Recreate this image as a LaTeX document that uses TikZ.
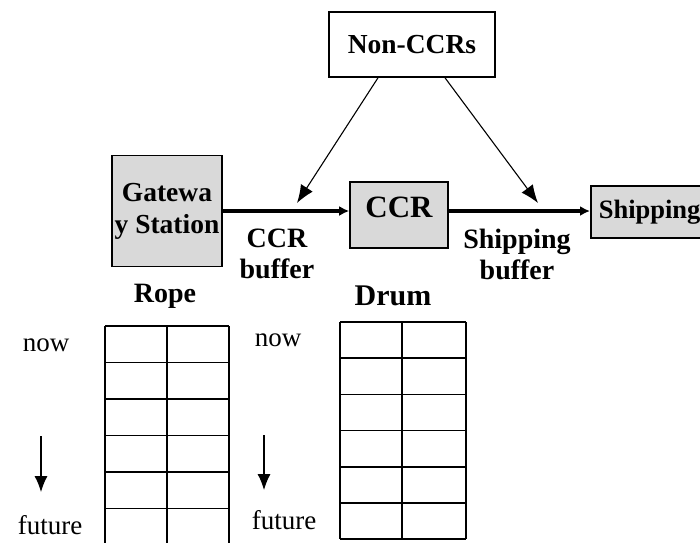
\documentclass[tikz,border=0pt]{standalone}
\usepackage{fontspec}
\setmainfont{Liberation Serif}
\usetikzlibrary{positioning,arrows.meta}
\tikzset{
  stage/.style = {draw, line width=1.6pt, fill=gray!30, inner sep=0pt,
                  font=\bfseries\fontsize{27.5}{31}\selectfont, align=center},
  flow/.style  = {line width=3.8pt, -{Latex[length=10pt,width=10pt]}},
  feed/.style  = {line width=1.1pt, -{Latex[length=18pt,width=14pt]}},
  later/.style = {line width=1.1pt, -{Latex[length=16pt,width=13pt]}},
  lbl/.style   = {font=\bfseries\fontsize{28}{31}\selectfont, align=center},
  note/.style  = {font=\fontsize{27}{28}\selectfont},
  slotline/.style = {line width=1.6pt}
}
\begin{document}
\begin{tikzpicture}[x=1pt, y=-1pt]
  \useasboundingbox (0,0) rectangle (700,542);
  % flow line
  \node[stage, fill=white, minimum width=166pt, minimum height=65pt] (noncr) at (412,44.5) {Non-CCRs};
  \node[stage, minimum width=110pt, minimum height=111pt] (gate) at (167,211) {Gatewa\\[1pt]y Station};
  \node[stage, minimum width=98pt, minimum height=66pt, font=\bfseries\fontsize{31}{32}\selectfont,
        text depth=16pt] (ccr) at (399,215) {CCR};
  \node[stage, anchor=west, minimum height=52pt, text width=112pt, align=left, inner xsep=8pt,
        font=\bfseries\fontsize{26.5}{30}\selectfont] (ship) at (590,212) {Shipping};
  \draw[flow] (gate.east) -- (gate.east -| ccr.west);
  \draw[flow] (ccr.east |- gate.east) -- (ship.west |- gate.east);
  % non-CCR feeds
  \coordinate (ccrbuf) at (297,203);
  \coordinate (shipbuf) at (538,203);
  \draw[feed] ([xshift=-34pt]noncr.south) -- (ccrbuf);
  \draw[feed] ([xshift=33pt]noncr.south) -- (shipbuf);
  \node[lbl] (ccrbuflbl) at (277,254) {CCR\\buffer};
  \node[lbl] (shipbuflbl) at (517,254) {Shipping\\buffer};
  % schedules
  \node[lbl] (rope) at (165,296) {Rope};
  \node[lbl, font=\bfseries\fontsize{30}{31}\selectfont] (drum) at (393,296) {Drum};
  \foreach \k in {0,...,6}
    \draw[slotline] (105,326+36.5*\k) -- (229,326+36.5*\k);
  \foreach \x in {105,167,229}
    \draw[slotline] (\x,326) -- (\x,560);
  \foreach \k in {0,...,6}
    \draw[slotline] (340,322+36.2*\k) -- (466,322+36.2*\k);
  \foreach \x in {340,402,466}
    \draw[slotline] (\x,322) -- (\x,539.2);
  % time axis
  \node[note] (nowa) at (46,345) {now};
  \node[note] (futa) at (50,525) {future};
  \node[note] (nowb) at (278,340) {now};
  \node[note] (futb) at (284,520) {future};
  \coordinate (downa) at (41,492);
  \coordinate (downb) at (264,490);
  \draw[later] (41,436) -- (downa);
  \draw[later] (264,435) -- (downb);
\end{tikzpicture}
\end{document}
